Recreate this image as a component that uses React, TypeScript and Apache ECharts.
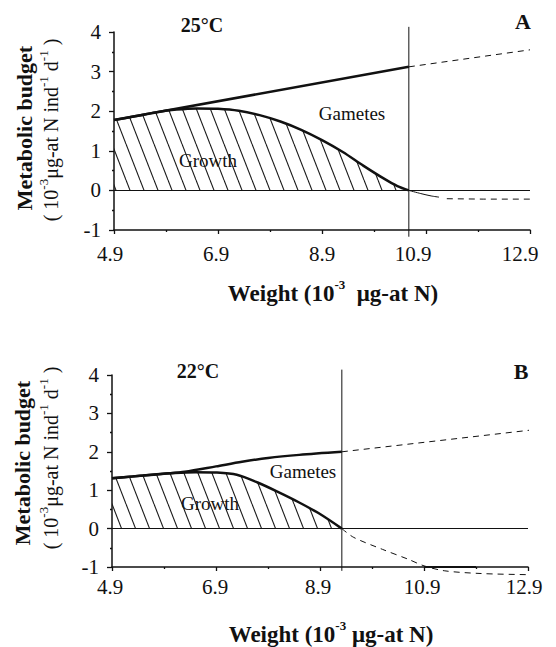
import React, { useEffect, useRef } from "react";
import * as echarts from "echarts";

// ---------- data ----------
const X0 = 4.9; // first tick of the weight axis (axis runs 4.9 .. 12.9)
const xTickValues = [4.9, 6.9, 8.9, 10.9, 12.9];
const yMin = -1;
const yMax = 4;

// Panel A (25°C)
const aTotal = [[4.9, 1.78], [10.57, 3.12]];
const aTotalDashed = [[10.57, 3.12], [12.9, 3.55]];
const aGrowth = [
  [4.9, 1.78], [5.3, 1.87], [5.7, 1.97], [6.1, 2.04], [6.5, 2.07], [6.9, 2.06],
  [7.3, 2.01], [7.7, 1.9], [8.1, 1.74], [8.5, 1.53], [8.9, 1.27], [9.3, 0.97],
  [9.7, 0.62], [10.1, 0.29], [10.35, 0.11], [10.57, 0],
];
const aBelowSolid = [[10.57, 0], [10.8, -0.08], [11.0, -0.14], [11.15, -0.17]];
const aBelowDashed = [[11.3, -0.21], [12.0, -0.22], [12.9, -0.22]];
const aSplit = [[10.57, -1.17], [10.57, 4.13]];

// Panel B (22°C)
const bTotal = [
  [4.9, 1.31], [5.5, 1.38], [5.9, 1.43], [6.3, 1.48], [6.9, 1.62], [7.4, 1.74],
  [7.9, 1.84], [8.5, 1.92], [9.32, 2.0],
];
const bTotalDashed = [[9.32, 2.0], [13.43, 2.64]];
const bGrowth = [
  [4.9, 1.31], [5.3, 1.36], [5.7, 1.41], [6.1, 1.45], [6.5, 1.47], [6.9, 1.46],
  [7.3, 1.4], [7.7, 1.2], [8.1, 0.95], [8.5, 0.68], [8.9, 0.38], [9.32, 0],
];
const bBelowDashed = [
  [9.32, 0], [9.55, -0.23], [10.1, -0.54], [10.6, -0.8], [10.9, -0.97], [11.3, -1.1],
  [12.0, -1.17], [12.9, -1.2], [13.4, -1.21],
];
const bSplit = [[9.32, -1.1], [9.32, 4.14]];
const bAxisMark = [[10.9, -1], [11.9, -1]];

// ---------- style ----------
const SERIF = "'Liberation Serif', 'Times New Roman', serif";
const INK = "#111";

function makeHatch() {
  const w = 14, h = 36;
  const c = document.createElement("canvas");
  c.width = w;
  c.height = h;
  const ctx = c.getContext("2d")!;
  ctx.strokeStyle = "#1a1a1a";
  ctx.lineWidth = 1.1;
  for (const dx of [-w, 0, w]) {
    ctx.beginPath();
    ctx.moveTo(dx, 0);
    ctx.lineTo(dx + w, h);
    ctx.stroke();
  }
  return c;
}

const sh = (pts: number[][]) => pts.map(([x, y]) => [x - X0, y]);

function lineSeries(idx: number, data: number[][], width: number, extra: any = {}) {
  return {
    type: "line",
    xAxisIndex: idx,
    yAxisIndex: idx,
    data: sh(data),
    showSymbol: false,
    symbol: "none",
    silent: true,
    clip: false,
    lineStyle: { color: INK, width, ...(extra.lineStyle || {}) },
    ...Object.fromEntries(Object.entries(extra).filter(([k]) => k !== "lineStyle")),
  };
}

function xAxisFor(idx: number, shifts: number[], margin: number) {
  const rich: any = {};
  shifts.forEach((s, i) => {
    rich["k" + i] = { fontSize: 21, fontFamily: SERIF, color: INK, padding: [0, 2 * s, 0, 0] };
  });
  return {
    type: "value",
    gridIndex: idx,
    min: 0,
    max: xTickValues[xTickValues.length - 1] - X0,
    interval: 2,
    axisLine: { show: true, onZero: false, lineStyle: { color: INK, width: 1.5 } },
    axisTick: { show: true, length: 4, lineStyle: { color: INK, width: 1.3 } },
    minorTick: { show: true, splitNumber: 2, length: 2, lineStyle: { color: INK, width: 1.3 } },
    splitLine: { show: false },
    minorSplitLine: { show: false },
    axisLabel: {
      margin,
      fontSize: 21,
      fontFamily: SERIF,
      color: INK,
      formatter: (v: number) => {
        const i = Math.round(v / 2);
        return `{k${i}|${(v + X0).toFixed(1)}}`;
      },
      rich,
    },
  };
}

function yAxisFor(idx: number) {
  return {
    type: "value",
    gridIndex: idx,
    min: yMin,
    max: yMax,
    interval: 1,
    axisLine: { show: true, onZero: false, lineStyle: { color: INK, width: 1.5 } },
    axisTick: { show: true, length: 5, lineStyle: { color: INK, width: 1.3 } },
    minorTick: { show: true, splitNumber: 2, length: 2, lineStyle: { color: INK, width: 1.3 } },
    splitLine: { show: false },
    minorSplitLine: { show: false },
    axisLabel: { margin: 13, fontSize: 21, fontFamily: SERIF, color: INK },
  };
}

function txt(x: number, y: number, text: string, size: number, bold: boolean, extra: any = {}) {
  return {
    type: "text",
    x,
    y,
    silent: true,
    style: {
      text,
      fontSize: size,
      fontFamily: SERIF,
      fontWeight: bold ? "bold" : "normal",
      fill: INK,
      align: "center",
      verticalAlign: "middle",
      ...extra,
    },
  };
}

function xTitle(x: number, y: number, gap: string) {
  return {
    type: "text",
    x,
    y,
    silent: true,
    style: {
      text: `{m|Weight (10}{s|-3}{m|${gap}μg-at N)}`,
      align: "center",
      verticalAlign: "middle",
      rich: {
        m: { fontSize: 23, fontFamily: SERIF, fontWeight: "bold", fill: INK, lineHeight: 30, verticalAlign: "middle" },
        s: { fontSize: 13, fontFamily: SERIF, fontWeight: "bold", fill: INK, lineHeight: 16, verticalAlign: "top" },
      },
    },
  };
}

function ySub(x: number, y: number) {
  return {
    type: "text",
    x,
    y,
    rotation: Math.PI / 2,
    silent: true,
    style: {
      text: "{m|( 10}{s|-3}{m|μg-at N ind}{s|-1}{m| d}{s|-1}{m| )}",
      align: "center",
      verticalAlign: "middle",
      rich: {
        m: { fontSize: 20, fontFamily: SERIF, fill: INK, lineHeight: 28, verticalAlign: "middle" },
        s: { fontSize: 13, fontFamily: SERIF, fill: INK, lineHeight: 15, verticalAlign: "top" },
      },
    },
  };
}

export default function App() {
  const ref = useRef<HTMLDivElement>(null);
  useEffect(() => {
    if (!ref.current) return;
    const chart = echarts.init(ref.current, undefined, { renderer: "svg" });
    const hatch = makeHatch();
    const hatchFill = { image: hatch, repeat: "repeat", imageWidth: 14, imageHeight: 36 };
    const zeroMark = {
      silent: true,
      symbol: "none",
      label: { show: false },
      lineStyle: { color: INK, width: 1, type: "solid" },
      data: [{ yAxis: 0 }],
    };
    const option: any = {
      animation: false,
      backgroundColor: "#fff",
      grid: [
        { left: 114, top: 32, width: 416, height: 198 },
        { left: 112, top: 375, width: 416, height: 192 },
      ],
      xAxis: [xAxisFor(0, [4, 2, 0, 13, 10], 13), xAxisFor(1, [2, 1, 2, 2, 4], 9)],
      yAxis: [yAxisFor(0), yAxisFor(1)],
      series: [
        // Panel A
        lineSeries(0, aGrowth, 2.5, { smooth: 0.3, areaStyle: { color: hatchFill, opacity: 1 }, markLine: zeroMark, z: 3 }),
        lineSeries(0, aTotal, 2.5, { z: 4 }),
        lineSeries(0, aTotalDashed, 1, { lineStyle: { type: [6, 5] } }),
        lineSeries(0, aBelowSolid, 1, { smooth: 0.3 }),
        lineSeries(0, aBelowDashed, 1, { lineStyle: { type: [6, 5] } }),
        lineSeries(0, aSplit, 1),
        // Panel B
        lineSeries(1, bGrowth, 2.5, { smooth: 0.3, areaStyle: { color: hatchFill, opacity: 1 }, markLine: zeroMark, z: 3 }),
        lineSeries(1, bTotal, 2.5, { smooth: 0.3, z: 4 }),
        lineSeries(1, bTotalDashed, 1, { lineStyle: { type: [6, 5] } }),
        lineSeries(1, bBelowDashed, 1, { smooth: 0.3, lineStyle: { type: [6, 5] } }),
        lineSeries(1, bSplit, 1),
        lineSeries(1, bAxisMark, 2),
      ],
      graphic: [
        txt(202, 25, "25°C", 20, true),
        txt(523, 21, "A", 22, true),
        txt(352, 113, "Gametes", 19, false),
        txt(208, 160, "Growth", 19, false),
        xTitle(333, 293, "  "),
        { ...txt(24, 128, "Metabolic budget", 22, true), rotation: Math.PI / 2 },
        ySub(51, 130),

        txt(198, 371, "22°C", 20, true),
        txt(521, 371, "B", 22, true),
        txt(303, 471, "Gametes", 19, false),
        txt(210, 503, "Growth", 19, false),
        xTitle(331, 634, " "),
        { ...txt(22, 463, "Metabolic budget", 22, true), rotation: Math.PI / 2 },
        ySub(51, 458),
      ],
    };
    chart.setOption(option);
    return () => chart.dispose();
  }, []);
  return (
    <div
      ref={ref}
      style={{ position: "fixed", left: 0, top: 0, width: 556, height: 647, background: "#fff" }}
    />
  );
}
